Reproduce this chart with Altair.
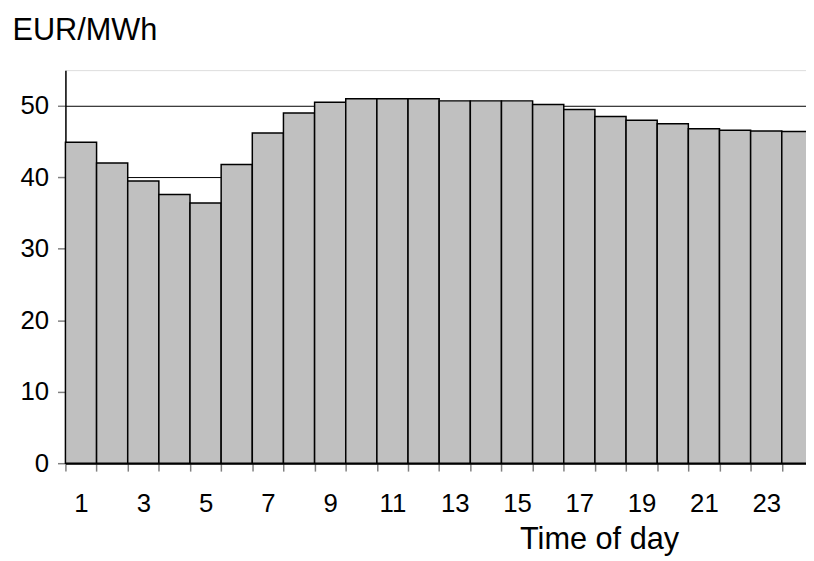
import altair as alt
import pandas as pd

hours = list(range(1, 25))
prices = [44.9, 42.0, 39.5, 37.6, 36.4, 41.8, 46.2, 49.0, 50.5, 51.0, 51.0, 51.0,
          50.7, 50.7, 50.7, 50.2, 49.5, 48.5, 48.0, 47.5, 46.8, 46.6, 46.5, 46.4]
y_ticks = [0, 10, 20, 30, 40, 50]

df = pd.DataFrame({"hour": hours, "price": prices})

FONT = "Liberation Sans"

chart = alt.Chart(df).mark_bar(
    color="#c0c0c0", stroke="#000000", strokeWidth=1.5
).encode(
    x=alt.X("hour:O", sort=hours,
            scale=alt.Scale(paddingInner=0, paddingOuter=0, range=[0, 755]),
            axis=alt.Axis(
                title="Time of day", titleFont=FONT, titleFontSize=31,
                titleFontWeight="normal", titleColor="#000",
                titleAnchor="start", titleAlign="center", titleX=539, titleY=86,
                titleBaseline="alphabetic",
                labelAngle=0, labelFont=FONT, labelFontSize=26, labelColor="#000",
                labelExpr="datum.value % 2 == 1 ? datum.label : ''",
                labelPadding=20, tickBand="extent", tickSize=8, tickColor="#808080",
                tickWidth=1.5, domainColor="#000", domainWidth=2, grid=False,
            )),
    y=alt.Y("price:Q",
            scale=alt.Scale(domain=[0, 55], nice=False, zero=True),
            axis=alt.Axis(
                values=y_ticks, title="EUR/MWh", titleFont=FONT, titleFontSize=31,
                titleFontWeight="normal", titleColor="#000", titleAngle=0,
                titleAlign="left", titleBaseline="alphabetic", titleX=-54, titleY=-31,
                labelFont=FONT, labelFontSize=26, labelColor="#000", labelPadding=9,
                tickSize=8, tickColor="#808080", tickWidth=1.5,
                domainColor="#000", domainWidth=1.5,
                grid=True, gridColor="#000", gridWidth=1,
            )),
).properties(
    width=748, height=397,
    autosize=alt.AutoSizeParams(type="none"),
    padding={"left": 58, "top": 60, "right": 0, "bottom": 94},
).configure_view(
    stroke="#a0a0a0", strokeWidth=2
).configure(background="white")

chart.save("out.html", embed_options={"renderer": "svg", "actions": False})
